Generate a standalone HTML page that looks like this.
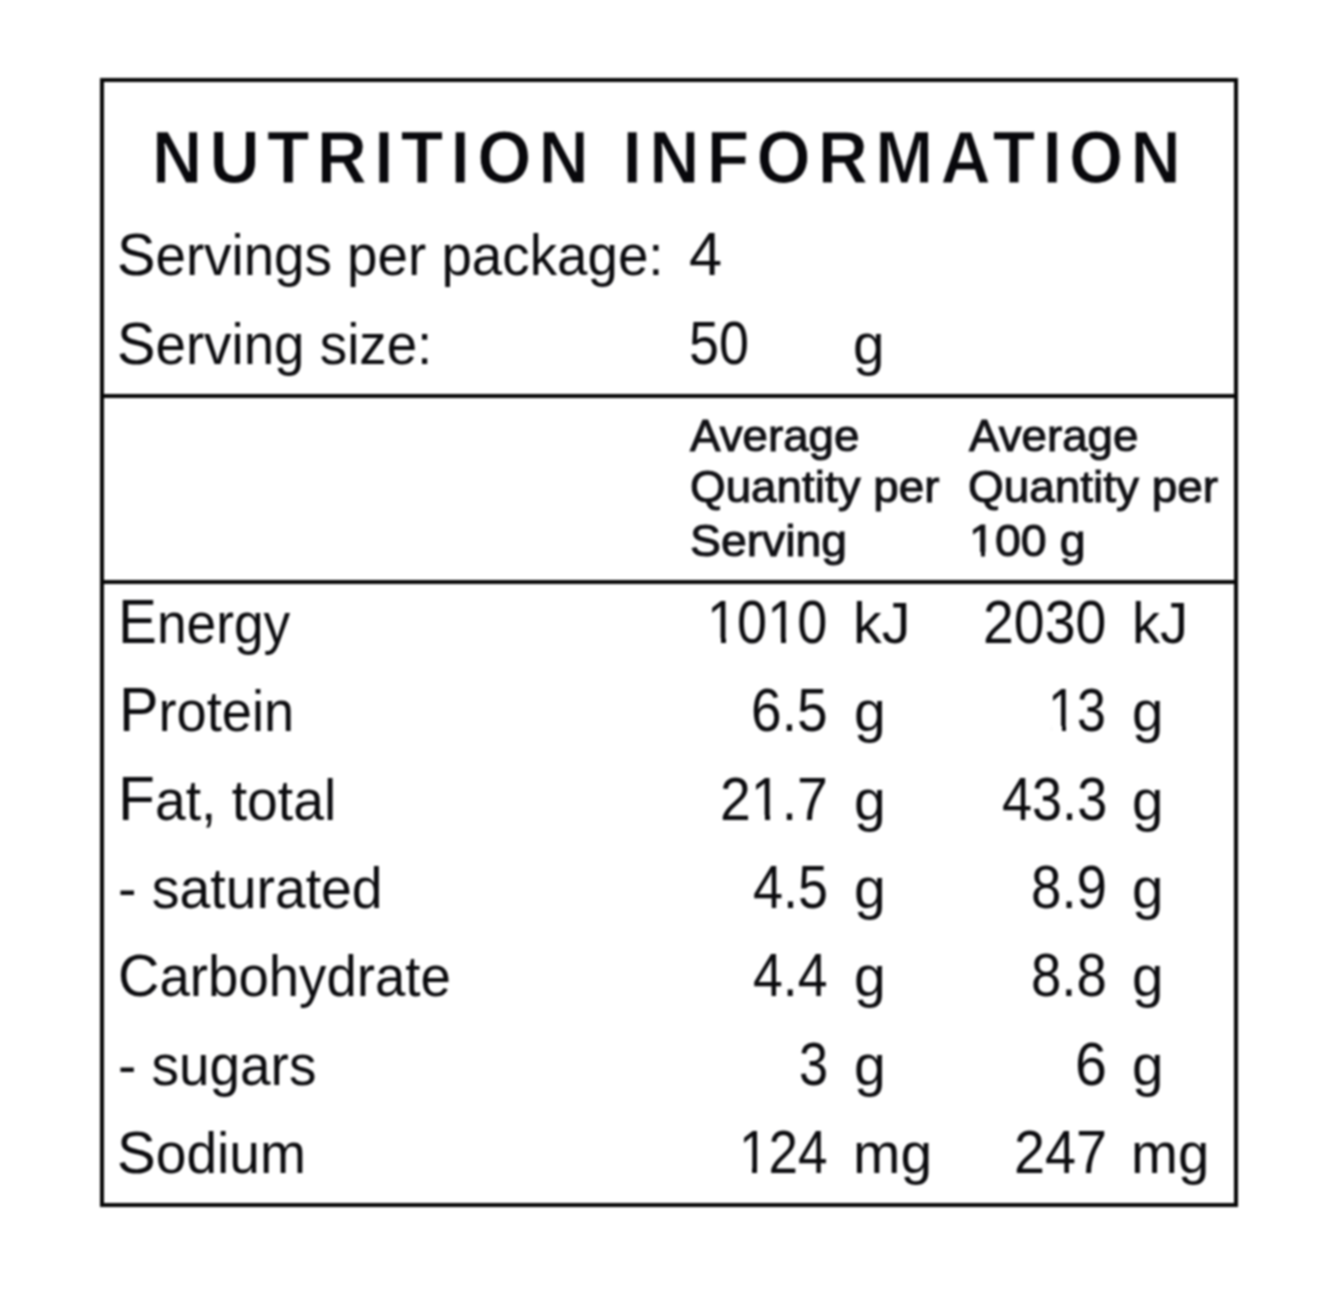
<!DOCTYPE html>
<html lang="en">
<head>
<meta charset="utf-8">
<title>Nutrition Information</title>
<style>
  html, body { margin: 0; padding: 0; background: #ffffff; }
  body { width: 1326px; height: 1306px; position: relative; overflow: hidden;
         font-family: "Liberation Sans", sans-serif; color: #0b0b0e; }
  #panel { position: absolute; left: 0; top: 0; width: 1326px; height: 1306px; filter: blur(1.25px); }
  .box { position: absolute; left: 100px; top: 77.5px; width: 1130px; height: 1121.5px;
         border: 4px solid #050505; background: #fff; }
  .rule { position: absolute; left: 100px; width: 1138px; height: 4px; background: #050505; }
  .t { position: absolute; white-space: nowrap; line-height: 1; transform-origin: 0 0; }
  .title { font-weight: bold; font-size: 74px; color: #08080c; -webkit-text-stroke: 1px #fff; }
  .b { font-size: 57px; }
  .c::first-letter { font-size: 1.094em; }
  .s::first-letter { font-size: 1.053em; }
  .n { font-size: 60.5px; }
  .h { font-size: 45px; color: #101014; -webkit-text-stroke: 1px #101014; }
  .w { position: absolute; background: #fff; }
</style>
</head>
<body>
<div id="panel">
  <div class="box"></div>
  <div class="rule" style="top:394px"></div>
  <div class="rule" style="top:579.5px"></div>
  <div class="t title" style="left:152.0px; top:121px; transform:scaleX(0.9400); letter-spacing:7.72px">NUTRITION INFORMATION</div>
  <div class="t b s" style="left:117.2px; top:225px; transform:scaleX(0.9603)">Servings per package:</div>
  <div class="t n" style="left:688.8px; top:224px; transform:scaleX(0.9826)">4</div>
  <div class="t b s" style="left:117.2px; top:314px; transform:scaleX(0.9604)">Serving size:</div>
  <div class="t n" style="left:688.7px; top:313px; transform:scaleX(0.8912)">50</div>
  <div class="t b" style="left:852.7px; top:316px; transform:scaleX(0.9941)">g</div>
  <div class="t h" style="left:690.3px; top:413px; transform:scaleX(1.0155)">Average</div>
  <div class="t h" style="left:689.9px; top:464px; transform:scaleX(1.0179)">Quantity per</div>
  <div class="t h" style="left:690.3px; top:518px; transform:scaleX(1.0299)">Serving</div>
  <div class="t h" style="left:969.3px; top:413px; transform:scaleX(1.0154)">Average</div>
  <div class="t h" style="left:968.0px; top:464px; transform:scaleX(1.0199)">Quantity per</div>
  <div class="t h" style="left:969.1px; top:518px; transform:scaleX(1.0353)">100 g</div>
  <div class="w" style="left:971.8px; top:552.0px; width:8.9px; height:4.8px"></div>
  <div class="w" style="left:985.0px; top:552.0px; width:8.6px; height:4.8px"></div>
  <div class="t b c" style="left:118.0px; top:591px; transform:scaleX(0.9349)">Energy</div>
  <div class="t n" style="left:707.3px; top:592px; transform:scaleX(0.8940)">1010</div>
  <div class="w" style="left:710.5px; top:637.9px; width:10.4px; height:5.9px"></div>
  <div class="w" style="left:725.8px; top:637.9px; width:9.9px; height:5.9px"></div>
  <div class="w" style="left:770.7px; top:637.9px; width:10.4px; height:5.9px"></div>
  <div class="w" style="left:786.0px; top:637.9px; width:9.9px; height:5.9px"></div>
  <div class="t b" style="left:852.6px; top:595px; transform:scaleX(1.0066)">kJ</div>
  <div class="t n" style="left:982.8px; top:592px; transform:scaleX(0.9160)">2030</div>
  <div class="t b" style="left:1131.9px; top:595px; transform:scaleX(0.9855)">kJ</div>
  <div class="t b c" style="left:118.9px; top:679px; transform:scaleX(0.9506)">Protein</div>
  <div class="t n" style="left:751.2px; top:680px; transform:scaleX(0.9102)">6.5</div>
  <div class="t b" style="left:853.6px; top:683px; transform:scaleX(1.0018)">g</div>
  <div class="t n" style="left:1048.4px; top:680px; transform:scaleX(0.8598)">13</div>
  <div class="w" style="left:1051.5px; top:725.9px; width:10.0px; height:5.9px"></div>
  <div class="w" style="left:1066.2px; top:725.9px; width:9.6px; height:5.9px"></div>
  <div class="t b" style="left:1132.4px; top:683px; transform:scaleX(0.9936)">g</div>
  <div class="t b c" style="left:117.5px; top:768px; transform:scaleX(0.9697)">Fat, total</div>
  <div class="t n" style="left:720.3px; top:769px; transform:scaleX(0.9163)">21.7</div>
  <div class="w" style="left:754.3px; top:814.9px; width:10.6px; height:5.9px"></div>
  <div class="w" style="left:770.0px; top:814.9px; width:10.2px; height:5.9px"></div>
  <div class="t b" style="left:853.6px; top:772px; transform:scaleX(1.0018)">g</div>
  <div class="t n" style="left:1001.5px; top:769px; transform:scaleX(0.8934)">43.3</div>
  <div class="t b" style="left:1132.4px; top:772px; transform:scaleX(0.9936)">g</div>
  <div class="t b" style="left:118.2px; top:860px; transform:scaleX(0.9712)">- saturated</div>
  <div class="t n" style="left:752.8px; top:857px; transform:scaleX(0.8922)">4.5</div>
  <div class="t b" style="left:853.6px; top:860px; transform:scaleX(1.0018)">g</div>
  <div class="t n" style="left:1030.5px; top:857px; transform:scaleX(0.9041)">8.9</div>
  <div class="t b" style="left:1132.4px; top:860px; transform:scaleX(0.9936)">g</div>
  <div class="t b s" style="left:118.4px; top:946px; transform:scaleX(0.9576)">Carbohydrate</div>
  <div class="t n" style="left:752.8px; top:945px; transform:scaleX(0.8845)">4.4</div>
  <div class="t b" style="left:853.6px; top:948px; transform:scaleX(1.0018)">g</div>
  <div class="t n" style="left:1030.6px; top:945px; transform:scaleX(0.9018)">8.8</div>
  <div class="t b" style="left:1132.4px; top:948px; transform:scaleX(0.9936)">g</div>
  <div class="t b" style="left:118.3px; top:1037px; transform:scaleX(0.9634)">- sugars</div>
  <div class="t n" style="left:798.5px; top:1034px; transform:scaleX(0.8651)">3</div>
  <div class="t b" style="left:853.6px; top:1037px; transform:scaleX(1.0018)">g</div>
  <div class="t n" style="left:1074.5px; top:1034px; transform:scaleX(0.9486)">6</div>
  <div class="t b" style="left:1132.4px; top:1037px; transform:scaleX(0.9936)">g</div>
  <div class="t b s" style="left:117.3px; top:1123px; transform:scaleX(0.9678)">Sodium</div>
  <div class="t n" style="left:739.0px; top:1122px; transform:scaleX(0.8757)">124</div>
  <div class="w" style="left:742.1px; top:1167.9px; width:10.1px; height:5.9px"></div>
  <div class="w" style="left:757.0px; top:1167.9px; width:9.7px; height:5.9px"></div>
  <div class="t b" style="left:852.7px; top:1125px; transform:scaleX(0.9995)">mg</div>
  <div class="t n" style="left:1014.0px; top:1122px; transform:scaleX(0.9212)">247</div>
  <div class="t b" style="left:1130.9px; top:1125px; transform:scaleX(0.9879)">mg</div>
</div>
</body>
</html>
